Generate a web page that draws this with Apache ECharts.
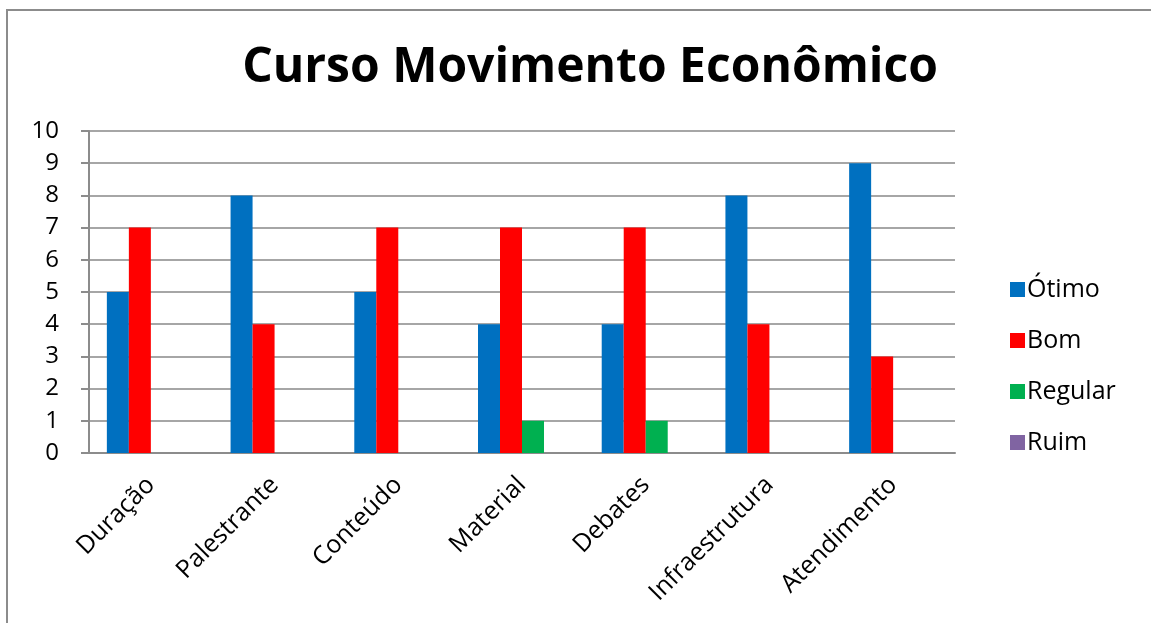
<!DOCTYPE html>
<html>
<head>
<meta charset="utf-8">
<script src="https://cdn.jsdelivr.net/npm/echarts@6/dist/echarts.min.js"></script>
<style>
  html, body { margin: 0; padding: 0; background: #fff; overflow: hidden; }
  #frame { position: absolute; left: 6px; top: 9px; width: 1300px; height: 800px; border: 2px solid #8c8c8c; }
  #chart { position: absolute; left: 0; top: 0; width: 1151px; height: 623px; }
</style>
</head>
<body>
<div id="frame"></div>
<div id="chart"></div>
<script>
  // dados do gráfico
  const categories = ["Duração", "Palestrante", "Conteúdo", "Material", "Debates", "Infraestrutura", "Atendimento"];
  const otimo = [5, 8, 5, 4, 4, 8, 9];
  const bom = [7, 4, 7, 7, 7, 4, 3];
  const regular = [0, 0, 0, 1, 1, 0, 0];
  const ruim = [0, 0, 0, 0, 0, 0, 0];
  const seriesNames = ["Ótimo", "Bom", "Regular", "Ruim"];
  const colors = ["#0070C0", "#FF0000", "#00B050", "#8064A2"];

  const font = "'Open Sans', Lato, sans-serif";
  const values = [otimo, bom, regular, ruim];

  const option = {
    animation: false,
    color: colors,
    title: {
      text: "Curso Movimento Econômico",
      left: 585,
      textAlign: "center",
      top: 39,
      textStyle: { fontFamily: font, fontWeight: "bold", fontSize: 48, color: "#000" },
    },
    legend: {
      orient: "vertical",
      left: 1005,
      top: 272,
      itemWidth: 15,
      itemHeight: 15,
      itemGap: 26,
      icon: "rect",
      data: seriesNames,
      textStyle: { fontFamily: font, fontSize: 25, color: "#000", padding: [0, 0, 0, -3] },
    },
    grid: { left: 89, right: 196, top: 131, bottom: 170 },
    xAxis: {
      type: "category",
      data: categories,
      axisLine: { lineStyle: { color: "#8c8c8c", width: 2 } },
      axisTick: { show: false },
      axisLabel: {
        rotate: 45,
        margin: 28,
        fontFamily: font,
        fontSize: 25,
        color: "#000",
        interval: 0,
      },
    },
    yAxis: {
      type: "value",
      min: 0,
      max: 10,
      interval: 1,
      axisLine: { show: true, lineStyle: { color: "#8c8c8c", width: 2 } },
      axisTick: { show: true, length: 8, lineStyle: { color: "#8c8c8c", width: 2 } },
      splitLine: { lineStyle: { color: "#a6a6a6", width: 2 } },
      axisLabel: { fontFamily: font, fontSize: 24, color: "#000", margin: 30 },
    },
    series: seriesNames.map((name, i) => ({
      name: name,
      type: "bar",
      data: values[i],
      barWidth: 22,
      barGap: "0%",
    })),
  };

  const chart = echarts.init(document.getElementById("chart"));
  chart.setOption(option);
</script>
</body>
</html>
